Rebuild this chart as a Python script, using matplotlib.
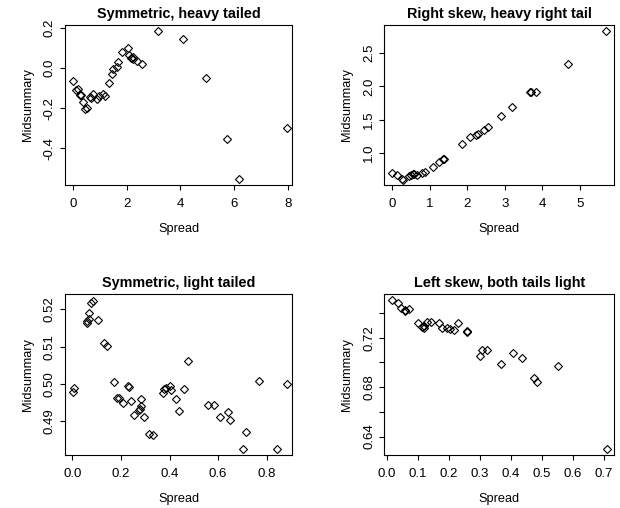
import matplotlib
matplotlib.use("Agg")
import matplotlib.pyplot as plt

plt.rcParams['font.family'] = ['Liberation Sans', 'DejaVu Sans']

# Symmetric, heavy tailed
sp1 = [-0.02, 0.09, 0.175, 0.25, 0.27, 0.35, 0.42, 0.50, 0.62, 0.65, 0.75, 0.87, 0.97,
       1.12, 1.18, 1.32, 1.43, 1.49, 1.62, 1.67, 1.83, 2.03, 2.09, 2.15, 2.22, 2.24,
       2.37, 2.55, 3.15, 4.08, 4.94, 5.72, 6.18, 7.96]
mid1 = [-0.062, -0.107, -0.102, -0.132, -0.135, -0.167, -0.202, -0.197, -0.145, -0.148,
        -0.129, -0.152, -0.140, -0.129, -0.137, -0.072, -0.027, -0.004, 0.008, 0.030,
        0.082, 0.102, 0.065, 0.050, 0.055, 0.045, 0.037, 0.023, 0.187, 0.147, -0.047,
        -0.352, -0.552, -0.297]

# Right skew, heavy right tail
sp2 = [-0.02, 0.12, 0.27, 0.28, 0.45, 0.50, 0.54, 0.58, 0.65, 0.80, 0.86, 1.08, 1.25,
       1.35, 1.38, 1.86, 2.07, 2.24, 2.28, 2.45, 2.55, 2.90, 3.19, 3.67, 3.70, 3.83,
       4.68, 5.69]
mid2 = [0.697, 0.667, 0.600, 0.590, 0.656, 0.670, 0.686, 0.675, 0.670, 0.690, 0.706,
        0.780, 0.858, 0.909, 0.910, 1.126, 1.237, 1.267, 1.280, 1.338, 1.388, 1.550,
        1.686, 1.918, 1.918, 1.918, 2.342, 2.838]

# Symmetric, light tailed
sp3 = [0.002, 0.006, 0.059, 0.062, 0.068, 0.069, 0.077, 0.085, 0.106, 0.129, 0.143,
       0.170, 0.185, 0.193, 0.207, 0.229, 0.233, 0.240, 0.253, 0.273, 0.279, 0.281,
       0.284, 0.297, 0.317, 0.331, 0.372, 0.379, 0.386, 0.402, 0.406, 0.425, 0.438,
       0.458, 0.475, 0.557, 0.584, 0.606, 0.639, 0.647, 0.701, 0.714, 0.767, 0.841,
       0.882]
mid3 = [0.4979, 0.4990, 0.5163, 0.5169, 0.5175, 0.5190, 0.5218, 0.5223, 0.5172, 0.5110,
        0.5103, 0.5006, 0.4963, 0.4962, 0.4950, 0.4995, 0.4993, 0.4955, 0.4918, 0.4931,
        0.4932, 0.4940, 0.4959, 0.4911, 0.4867, 0.4864, 0.4977, 0.4986, 0.4989, 0.4995,
        0.4985, 0.4959, 0.4928, 0.4988, 0.5062, 0.4945, 0.4945, 0.4911, 0.4926, 0.4904,
        0.4826, 0.4872, 0.5009, 0.4826, 0.5001]

# Left skew, both tails light
sp4 = [0.017, 0.036, 0.045, 0.058, 0.060, 0.072, 0.100, 0.115, 0.121, 0.121, 0.131,
       0.142, 0.169, 0.177, 0.195, 0.204, 0.217, 0.230, 0.258, 0.258, 0.300, 0.307,
       0.324, 0.370, 0.408, 0.435, 0.476, 0.485, 0.554, 0.709]
mid4 = [0.7506, 0.7481, 0.7441, 0.7428, 0.7420, 0.7433, 0.7319, 0.7286, 0.7297, 0.7281,
        0.7324, 0.7327, 0.7319, 0.7276, 0.7276, 0.7267, 0.7259, 0.7319, 0.7251, 0.7246,
        0.7056, 0.7097, 0.7097, 0.6991, 0.7075, 0.7032, 0.6872, 0.6845, 0.6975, 0.6300]

titles = ["Symmetric, heavy tailed", "Right skew, heavy right tail",
          "Symmetric, light tailed", "Left skew, both tails light"]

fig = plt.figure(figsize=(6.2, 5.08), dpi=100)

panels = [
    ([0.1048, 0.6358, 0.3666, 0.3156], sp1, mid1, (-0.31, 8.17), (-0.5835, 0.218),
     [0, 2, 4, 6, 8], ['0', '2', '4', '6', '8'],
     [-0.4, -0.2, 0.0, 0.2], ['-0.4', '-0.2', '0.0', '0.2']),
    ([0.6198, 0.6358, 0.3710, 0.3156], sp2, mid2, (-0.213, 5.92), (0.515, 2.929),
     [0, 1, 2, 3, 4, 5], ['0', '1', '2', '3', '4', '5'],
     [1.0, 1.5, 2.0, 2.5], ['1.0', '1.5', '2.0', '2.5']),
    ([0.1048, 0.1043, 0.3666, 0.3170], sp3, mid3, (-0.030, 0.905), (0.4810, 0.5241),
     [0.0, 0.2, 0.4, 0.6, 0.8], ['0.0', '0.2', '0.4', '0.6', '0.8'],
     [0.49, 0.50, 0.51, 0.52], ['0.49', '0.50', '0.51', '0.52']),
    ([0.6198, 0.1043, 0.3710, 0.3170], sp4, mid4, (-0.0077, 0.734), (0.6251, 0.7554),
     [0.0, 0.1, 0.2, 0.3, 0.4, 0.5, 0.6, 0.7],
     ['0.0', '0.1', '0.2', '0.3', '0.4', '0.5', '0.6', '0.7'],
     [0.64, 0.66, 0.68, 0.70, 0.72, 0.74], ['0.64', '', '0.68', '', '0.72', '']),
]

for (rect, x, y, xl, yl, xt, xtl, yt, ytl), title in zip(panels, titles):
    ax = fig.add_axes(rect)
    ax.plot(x, y, linestyle='none', marker='D', markersize=4,
            markerfacecolor='none', markeredgecolor='black', markeredgewidth=0.8)
    ax.set_xlim(xl)
    ax.set_ylim(yl)
    ax.set_xticks(xt)
    ax.set_xticklabels(xtl)
    ax.set_yticks(yt)
    ax.set_yticklabels(ytl, rotation=90, va='center')
    ax.tick_params(direction='out', length=3.6, width=0.8, labelsize=9.5)
    ax.tick_params(axis='x', pad=6)
    ax.tick_params(axis='y', pad=3)
    for s in ax.spines.values():
        s.set_linewidth(0.8)
    ax.set_title(title, fontsize=10.4, fontweight='bold', pad=5)
    ax.set_xlabel('Spread', fontsize=9.2, labelpad=9)
    ax.set_ylabel('Midsummary', fontsize=9.2, labelpad=7)

fig.savefig('out.png', dpi=100)
